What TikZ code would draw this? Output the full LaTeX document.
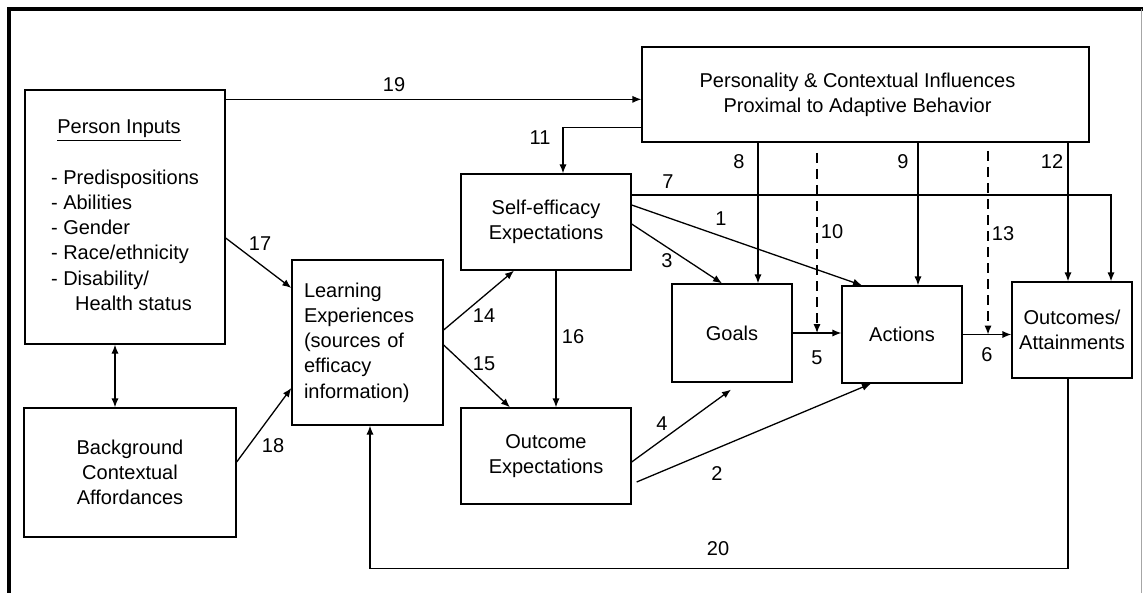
\documentclass[tikz,border=0pt]{standalone}
\usepackage{fontspec}
\setmainfont{Liberation Sans}
\usepackage{tikz}
\usetikzlibrary{arrows.meta}
\tikzstyle{block}=[draw,fill=white,rectangle,line width=0.65pt,inner sep=0pt,align=center]
\tikzstyle{every node}=[font=\fontsize{10}{12.6}\selectfont]
\tikzstyle{num}=[inner sep=1pt]
\tikzstyle{link}=[->,line width=0.65pt]
\tikzstyle{dlink}=[->,line width=0.65pt,dash pattern=on 5pt off 3pt]

\begin{document}
\begin{tikzpicture}[x=0.5pt,y=-0.5pt,>={Latex[length=4.5pt,width=3.6pt]}]
  \useasboundingbox (0,0) rectangle (1143,593);
  % frame
  \draw[line width=2pt] (1143,9) -- (9,9) -- (9,593);
  \draw[black!35,line width=0.5pt] (1141,9) -- (1141,593);

  % boxes
  \node[block, minimum width=100pt, minimum height=127pt] (pin) at (125,217)
    {\begin{tabular}{@{}l@{}}\multicolumn{1}{@{}c@{}}{\underline{Person Inputs}\hspace*{6pt}}\\[12.6pt]
     - Predispositions\\- Abilities\\- Gender\\- Race/ethnicity\\- Disability/\\\hspace*{12pt}Health status\end{tabular}};
  \node[block, minimum width=106pt, minimum height=64.5pt] (bg) at (130,472.5) {Background\\Contextual\\Affordances};
  \node[block, minimum height=82.5pt, text width=63.5pt, inner xsep=6pt, align=left] (learn) at (367.5,342.5)
    {Learning\\Experiences\\(sources of\\efficacy\\information)};
  \node[block, minimum width=223.5pt, minimum height=47.5pt] (pers) at (865.5,94.5)
    {Personality \& Contextual Influences\hspace*{8pt}\\Proximal to Adaptive Behavior\hspace*{8pt}};
  \node[block, minimum width=85pt, minimum height=48pt] (selfeff) at (546,222) {Self-efficacy\\Expectations};
  \node[block, minimum width=85pt, minimum height=48pt] (outexp) at (546,456) {Outcome\\Expectations};
  \node[block, minimum width=60pt, minimum height=49pt] (goals) at (732,333) {Goals};
  \node[block, minimum width=60pt, minimum height=48.5pt] (actions) at (902,334.5) {Actions};
  \node[block, minimum width=60pt, minimum height=48pt] (outc) at (1072,330) {Outcomes/\\Attainments};

  % paths
  \draw[<->, line width=0.65pt] ([xshift=-5pt]pin.south) -- ([xshift=-5pt]pin.south |- bg.north);
  \draw[link] ([yshift=-5pt]pin.north east) -- ([yshift=-5pt]pin.north east -| pers.west);
  \draw[link] ([yshift=-10.5pt]pin.east) -- ([yshift=27.25pt]learn.west);
  \draw[link] ([yshift=5.25pt]bg.east) -- ([yshift=-22.75pt]learn.west);
  \draw[link] ([yshift=6.25pt]learn.east) -- ([xshift=-16pt]selfeff.south);
  \draw[link] ([yshift=-1.25pt]learn.east) -- ([xshift=-18pt]outexp.north);
  \draw[link] ([xshift=5pt]selfeff.south) -- ([xshift=5pt]outexp.north);
  \draw[link] ([yshift=7.5pt]pers.south west) -| ([xshift=8.5pt]selfeff.north);
  \draw[link] ([xshift=13pt]goals.north |- pers.south) -- ([xshift=13pt]goals.north);
  \draw[link] ([xshift=8pt]actions.north |- pers.south) -- ([xshift=8pt]actions.north);
  \draw[link] ([xshift=-2pt]outc.north |- pers.south) -- ([xshift=-2pt]outc.north);
  \draw[link] ([yshift=13.5pt]selfeff.east) -| ([xshift=19.5pt]outc.north);
  \draw[link] ([yshift=8.5pt]selfeff.east) -- ([xshift=-20pt]actions.north);
  \draw[link] ([yshift=-1pt]selfeff.east) -- ([xshift=-5pt]goals.north);
  \draw[link] ([yshift=-3pt]outexp.east) -- ([xshift=-0.5pt,yshift=-3.5pt]goals.south);
  \draw[link] ([xshift=2.5pt,yshift=-13pt]outexp.east) -- ([xshift=-15.5pt]actions.south);
  \draw[link] (goals.east) -- (goals.east -| actions.west);
  \draw[link] (actions.east) -- (actions.east -| outc.west);
  \coordinate (top10) at (817,153);
  \coordinate (top13) at (988,151);
  \draw[dlink] (top10) -- (top10 |- goals.east);
  \draw[dlink] (top13) -- (top13 |- actions.east);
  \draw[link] ([xshift=-2pt]outc.south) -- ++(0,190) -| ([xshift=1.25pt]learn.south);

  % numbers
  \foreach \n/\x/\y in {19/394/85, 11/540/138, 8/739/162, 9/903/162, 12/1052/162,
      7/668/182, 1/721/219, 10/832/232, 13/1003/234, 3/667/261, 17/260/244,
      14/484/316, 16/573/337, 15/484/364, 5/817/358, 6/987/355, 18/273/446,
      4/662/424, 2/717/474, 20/718/549}
    \node[num] (n\n) at (\x,\y) {\n};
\end{tikzpicture}
\end{document}
